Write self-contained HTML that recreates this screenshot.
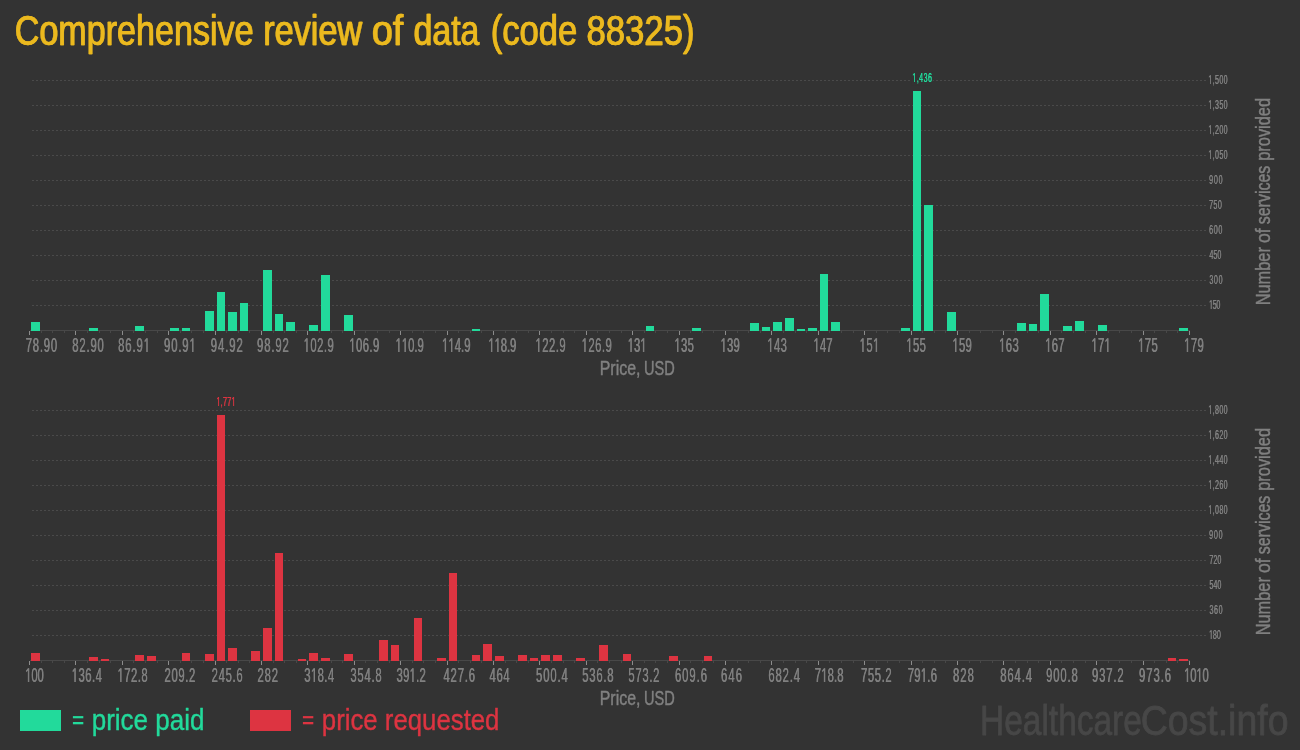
<!DOCTYPE html>
<html><head><meta charset="utf-8"><title>Comprehensive review of data (code 88325)</title>
<style>html,body{margin:0;padding:0;background:#333333;width:1300px;height:750px;overflow:hidden}
svg{display:block;will-change:transform} text{font-family:"Liberation Sans",sans-serif}</style></head>
<body><svg width="1300" height="750" viewBox="0 0 1300 750">
<rect width="1300" height="750" fill="#333333"/>
<text x="14.42" y="44.90" font-size="42" fill="#ebb91f" textLength="238.85" lengthAdjust="spacingAndGlyphs" stroke="#ebb91f" stroke-width="0.5" stroke-linejoin="round">Comprehensive</text><text x="15.02" y="44.90" font-size="42" fill="#ebb91f" textLength="238.85" lengthAdjust="spacingAndGlyphs" stroke="#ebb91f" stroke-width="0.5" stroke-linejoin="round">Comprehensive</text>
<text x="262.88" y="44.90" font-size="42" fill="#ebb91f" textLength="98.99" lengthAdjust="spacingAndGlyphs" stroke="#ebb91f" stroke-width="0.5" stroke-linejoin="round">review</text><text x="263.48" y="44.90" font-size="42" fill="#ebb91f" textLength="98.99" lengthAdjust="spacingAndGlyphs" stroke="#ebb91f" stroke-width="0.5" stroke-linejoin="round">review</text>
<text x="371.57" y="44.90" font-size="42" fill="#ebb91f" textLength="31.43" lengthAdjust="spacingAndGlyphs" stroke="#ebb91f" stroke-width="0.5" stroke-linejoin="round">of</text><text x="372.17" y="44.90" font-size="42" fill="#ebb91f" textLength="31.43" lengthAdjust="spacingAndGlyphs" stroke="#ebb91f" stroke-width="0.5" stroke-linejoin="round">of</text>
<text x="413.33" y="44.90" font-size="42" fill="#ebb91f" textLength="65.72" lengthAdjust="spacingAndGlyphs" stroke="#ebb91f" stroke-width="0.5" stroke-linejoin="round">data</text><text x="413.93" y="44.90" font-size="42" fill="#ebb91f" textLength="65.72" lengthAdjust="spacingAndGlyphs" stroke="#ebb91f" stroke-width="0.5" stroke-linejoin="round">data</text>
<text x="490.40" y="44.90" font-size="42" fill="#ebb91f" textLength="86.58" lengthAdjust="spacingAndGlyphs" stroke="#ebb91f" stroke-width="0.5" stroke-linejoin="round">(code</text><text x="491.00" y="44.90" font-size="42" fill="#ebb91f" textLength="86.58" lengthAdjust="spacingAndGlyphs" stroke="#ebb91f" stroke-width="0.5" stroke-linejoin="round">(code</text>
<text x="586.14" y="44.90" font-size="42" fill="#ebb91f" textLength="108.16" lengthAdjust="spacingAndGlyphs" stroke="#ebb91f" stroke-width="0.5" stroke-linejoin="round">88325)</text><text x="586.74" y="44.90" font-size="42" fill="#ebb91f" textLength="108.16" lengthAdjust="spacingAndGlyphs" stroke="#ebb91f" stroke-width="0.5" stroke-linejoin="round">88325)</text>
<line x1="32" y1="80.5" x2="1206" y2="80.5" stroke="#4a4a4a" stroke-width="1" stroke-dasharray="2,2"/>
<line x1="32" y1="105.5" x2="1206" y2="105.5" stroke="#4a4a4a" stroke-width="1" stroke-dasharray="2,2"/>
<line x1="32" y1="130.5" x2="1206" y2="130.5" stroke="#4a4a4a" stroke-width="1" stroke-dasharray="2,2"/>
<line x1="32" y1="155.5" x2="1206" y2="155.5" stroke="#4a4a4a" stroke-width="1" stroke-dasharray="2,2"/>
<line x1="32" y1="180.5" x2="1206" y2="180.5" stroke="#4a4a4a" stroke-width="1" stroke-dasharray="2,2"/>
<line x1="32" y1="205.5" x2="1206" y2="205.5" stroke="#4a4a4a" stroke-width="1" stroke-dasharray="2,2"/>
<line x1="32" y1="230.5" x2="1206" y2="230.5" stroke="#4a4a4a" stroke-width="1" stroke-dasharray="2,2"/>
<line x1="32" y1="255.5" x2="1206" y2="255.5" stroke="#4a4a4a" stroke-width="1" stroke-dasharray="2,2"/>
<line x1="32" y1="280.5" x2="1206" y2="280.5" stroke="#4a4a4a" stroke-width="1" stroke-dasharray="2,2"/>
<line x1="32" y1="305.5" x2="1206" y2="305.5" stroke="#4a4a4a" stroke-width="1" stroke-dasharray="2,2"/>
<line x1="30" y1="330.5" x2="1190" y2="330.5" stroke="#484848" stroke-width="1"/>
<rect x="29" y="331" width="1" height="4" fill="#8c8c8c"/>
<rect x="41" y="331" width="1" height="2" fill="#484848"/>
<rect x="52" y="331" width="1" height="2" fill="#484848"/>
<rect x="64" y="331" width="1" height="2" fill="#484848"/>
<rect x="75" y="331" width="1" height="4" fill="#8c8c8c"/>
<rect x="87" y="331" width="1" height="2" fill="#484848"/>
<rect x="99" y="331" width="1" height="2" fill="#484848"/>
<rect x="110" y="331" width="1" height="2" fill="#484848"/>
<rect x="122" y="331" width="1" height="4" fill="#8c8c8c"/>
<rect x="133" y="331" width="1" height="2" fill="#484848"/>
<rect x="145" y="331" width="1" height="2" fill="#484848"/>
<rect x="157" y="331" width="1" height="2" fill="#484848"/>
<rect x="168" y="331" width="1" height="4" fill="#8c8c8c"/>
<rect x="180" y="331" width="1" height="2" fill="#484848"/>
<rect x="191" y="331" width="1" height="2" fill="#484848"/>
<rect x="203" y="331" width="1" height="2" fill="#484848"/>
<rect x="215" y="331" width="1" height="4" fill="#8c8c8c"/>
<rect x="226" y="331" width="1" height="2" fill="#484848"/>
<rect x="238" y="331" width="1" height="2" fill="#484848"/>
<rect x="249" y="331" width="1" height="2" fill="#484848"/>
<rect x="261" y="331" width="1" height="4" fill="#8c8c8c"/>
<rect x="273" y="331" width="1" height="2" fill="#484848"/>
<rect x="284" y="331" width="1" height="2" fill="#484848"/>
<rect x="296" y="331" width="1" height="2" fill="#484848"/>
<rect x="307" y="331" width="1" height="4" fill="#8c8c8c"/>
<rect x="319" y="331" width="1" height="2" fill="#484848"/>
<rect x="331" y="331" width="1" height="2" fill="#484848"/>
<rect x="342" y="331" width="1" height="2" fill="#484848"/>
<rect x="354" y="331" width="1" height="4" fill="#8c8c8c"/>
<rect x="365" y="331" width="1" height="2" fill="#484848"/>
<rect x="377" y="331" width="1" height="2" fill="#484848"/>
<rect x="389" y="331" width="1" height="2" fill="#484848"/>
<rect x="400" y="331" width="1" height="4" fill="#8c8c8c"/>
<rect x="412" y="331" width="1" height="2" fill="#484848"/>
<rect x="423" y="331" width="1" height="2" fill="#484848"/>
<rect x="435" y="331" width="1" height="2" fill="#484848"/>
<rect x="447" y="331" width="1" height="4" fill="#8c8c8c"/>
<rect x="458" y="331" width="1" height="2" fill="#484848"/>
<rect x="470" y="331" width="1" height="2" fill="#484848"/>
<rect x="481" y="331" width="1" height="2" fill="#484848"/>
<rect x="493" y="331" width="1" height="4" fill="#8c8c8c"/>
<rect x="505" y="331" width="1" height="2" fill="#484848"/>
<rect x="516" y="331" width="1" height="2" fill="#484848"/>
<rect x="528" y="331" width="1" height="2" fill="#484848"/>
<rect x="539" y="331" width="1" height="4" fill="#8c8c8c"/>
<rect x="551" y="331" width="1" height="2" fill="#484848"/>
<rect x="563" y="331" width="1" height="2" fill="#484848"/>
<rect x="574" y="331" width="1" height="2" fill="#484848"/>
<rect x="586" y="331" width="1" height="4" fill="#8c8c8c"/>
<rect x="597" y="331" width="1" height="2" fill="#484848"/>
<rect x="609" y="331" width="1" height="2" fill="#484848"/>
<rect x="621" y="331" width="1" height="2" fill="#484848"/>
<rect x="632" y="331" width="1" height="4" fill="#8c8c8c"/>
<rect x="644" y="331" width="1" height="2" fill="#484848"/>
<rect x="655" y="331" width="1" height="2" fill="#484848"/>
<rect x="667" y="331" width="1" height="2" fill="#484848"/>
<rect x="679" y="331" width="1" height="4" fill="#8c8c8c"/>
<rect x="690" y="331" width="1" height="2" fill="#484848"/>
<rect x="702" y="331" width="1" height="2" fill="#484848"/>
<rect x="713" y="331" width="1" height="2" fill="#484848"/>
<rect x="725" y="331" width="1" height="4" fill="#8c8c8c"/>
<rect x="737" y="331" width="1" height="2" fill="#484848"/>
<rect x="748" y="331" width="1" height="2" fill="#484848"/>
<rect x="760" y="331" width="1" height="2" fill="#484848"/>
<rect x="771" y="331" width="1" height="4" fill="#8c8c8c"/>
<rect x="783" y="331" width="1" height="2" fill="#484848"/>
<rect x="795" y="331" width="1" height="2" fill="#484848"/>
<rect x="806" y="331" width="1" height="2" fill="#484848"/>
<rect x="818" y="331" width="1" height="4" fill="#8c8c8c"/>
<rect x="829" y="331" width="1" height="2" fill="#484848"/>
<rect x="841" y="331" width="1" height="2" fill="#484848"/>
<rect x="853" y="331" width="1" height="2" fill="#484848"/>
<rect x="864" y="331" width="1" height="4" fill="#8c8c8c"/>
<rect x="876" y="331" width="1" height="2" fill="#484848"/>
<rect x="887" y="331" width="1" height="2" fill="#484848"/>
<rect x="899" y="331" width="1" height="2" fill="#484848"/>
<rect x="911" y="331" width="1" height="4" fill="#8c8c8c"/>
<rect x="922" y="331" width="1" height="2" fill="#484848"/>
<rect x="934" y="331" width="1" height="2" fill="#484848"/>
<rect x="945" y="331" width="1" height="2" fill="#484848"/>
<rect x="957" y="331" width="1" height="4" fill="#8c8c8c"/>
<rect x="969" y="331" width="1" height="2" fill="#484848"/>
<rect x="980" y="331" width="1" height="2" fill="#484848"/>
<rect x="992" y="331" width="1" height="2" fill="#484848"/>
<rect x="1003" y="331" width="1" height="4" fill="#8c8c8c"/>
<rect x="1015" y="331" width="1" height="2" fill="#484848"/>
<rect x="1027" y="331" width="1" height="2" fill="#484848"/>
<rect x="1038" y="331" width="1" height="2" fill="#484848"/>
<rect x="1050" y="331" width="1" height="4" fill="#8c8c8c"/>
<rect x="1061" y="331" width="1" height="2" fill="#484848"/>
<rect x="1073" y="331" width="1" height="2" fill="#484848"/>
<rect x="1085" y="331" width="1" height="2" fill="#484848"/>
<rect x="1096" y="331" width="1" height="4" fill="#8c8c8c"/>
<rect x="1108" y="331" width="1" height="2" fill="#484848"/>
<rect x="1119" y="331" width="1" height="2" fill="#484848"/>
<rect x="1131" y="331" width="1" height="2" fill="#484848"/>
<rect x="1143" y="331" width="1" height="4" fill="#8c8c8c"/>
<rect x="1154" y="331" width="1" height="2" fill="#484848"/>
<rect x="1166" y="331" width="1" height="2" fill="#484848"/>
<rect x="1177" y="331" width="1" height="2" fill="#484848"/>
<rect x="1189" y="331" width="1" height="4" fill="#8c8c8c"/>
<rect x="31" y="322" width="9" height="9" fill="#22da9b"/>
<rect x="89" y="328" width="9" height="3" fill="#22da9b"/>
<rect x="135" y="326" width="9" height="5" fill="#22da9b"/>
<rect x="170" y="328" width="9" height="3" fill="#22da9b"/>
<rect x="182" y="328" width="8" height="3" fill="#22da9b"/>
<rect x="205" y="311" width="9" height="20" fill="#22da9b"/>
<rect x="217" y="292" width="8" height="39" fill="#22da9b"/>
<rect x="228" y="312" width="9" height="19" fill="#22da9b"/>
<rect x="240" y="303" width="8" height="28" fill="#22da9b"/>
<rect x="263" y="270" width="9" height="61" fill="#22da9b"/>
<rect x="275" y="314" width="8" height="17" fill="#22da9b"/>
<rect x="286" y="322" width="9" height="9" fill="#22da9b"/>
<rect x="309" y="325" width="9" height="6" fill="#22da9b"/>
<rect x="321" y="275" width="9" height="56" fill="#22da9b"/>
<rect x="344" y="315" width="9" height="16" fill="#22da9b"/>
<rect x="472" y="329" width="8" height="2" fill="#22da9b"/>
<rect x="646" y="326" width="8" height="5" fill="#22da9b"/>
<rect x="692" y="328" width="9" height="3" fill="#22da9b"/>
<rect x="750" y="323" width="9" height="8" fill="#22da9b"/>
<rect x="762" y="327" width="8" height="4" fill="#22da9b"/>
<rect x="773" y="322" width="9" height="9" fill="#22da9b"/>
<rect x="785" y="318" width="9" height="13" fill="#22da9b"/>
<rect x="797" y="329" width="8" height="2" fill="#22da9b"/>
<rect x="808" y="328" width="9" height="3" fill="#22da9b"/>
<rect x="820" y="274" width="8" height="57" fill="#22da9b"/>
<rect x="831" y="322" width="9" height="9" fill="#22da9b"/>
<rect x="901" y="328" width="9" height="3" fill="#22da9b"/>
<rect x="913" y="91" width="8" height="240" fill="#22da9b"/>
<rect x="924" y="205" width="9" height="126" fill="#22da9b"/>
<rect x="947" y="312" width="9" height="19" fill="#22da9b"/>
<rect x="1017" y="323" width="9" height="8" fill="#22da9b"/>
<rect x="1029" y="324" width="8" height="7" fill="#22da9b"/>
<rect x="1040" y="294" width="9" height="37" fill="#22da9b"/>
<rect x="1063" y="326" width="9" height="5" fill="#22da9b"/>
<rect x="1075" y="321" width="9" height="10" fill="#22da9b"/>
<rect x="1098" y="325" width="9" height="6" fill="#22da9b"/>
<rect x="1179" y="328" width="9" height="3" fill="#22da9b"/>
<text transform="translate(25.52,352.00) scale(0.565,1)" font-size="20" fill="#808080" letter-spacing="1.391">78.90</text><text transform="translate(25.92,352.00) scale(0.565,1)" font-size="20" fill="#808080" letter-spacing="1.391">78.90</text>
<text transform="translate(72.11,352.00) scale(0.565,1)" font-size="20" fill="#808080" letter-spacing="1.440">82.90</text><text transform="translate(72.51,352.00) scale(0.565,1)" font-size="20" fill="#808080" letter-spacing="1.440">82.90</text>
<text transform="translate(117.91,352.00) scale(0.565,1)" font-size="20" fill="#808080" letter-spacing="1.574">86.9 </text><text transform="translate(118.31,352.00) scale(0.565,1)" font-size="20" fill="#808080" letter-spacing="1.574">86.9 </text><path transform="translate(143.460,352.00) scale(0.00552,-0.00977)" d="M515 0L515 1237L197 1010L197 1180L530 1409L696 1409L696 0Z" fill="#808080"/><path transform="translate(143.860,352.00) scale(0.00552,-0.00977)" d="M515 0L515 1237L197 1010L197 1180L530 1409L696 1409L696 0Z" fill="#808080"/>
<text transform="translate(163.87,352.00) scale(0.565,1)" font-size="20" fill="#808080" letter-spacing="1.503">90.9 </text><text transform="translate(164.27,352.00) scale(0.565,1)" font-size="20" fill="#808080" letter-spacing="1.503">90.9 </text><path transform="translate(189.260,352.00) scale(0.00552,-0.00977)" d="M515 0L515 1237L197 1010L197 1180L530 1409L696 1409L696 0Z" fill="#808080"/><path transform="translate(189.660,352.00) scale(0.00552,-0.00977)" d="M515 0L515 1237L197 1010L197 1180L530 1409L696 1409L696 0Z" fill="#808080"/>
<text transform="translate(210.57,352.00) scale(0.565,1)" font-size="20" fill="#808080" letter-spacing="1.646">94.92</text><text transform="translate(210.97,352.00) scale(0.565,1)" font-size="20" fill="#808080" letter-spacing="1.646">94.92</text>
<text transform="translate(256.87,352.00) scale(0.565,1)" font-size="20" fill="#808080" letter-spacing="1.513">98.92</text><text transform="translate(257.27,352.00) scale(0.565,1)" font-size="20" fill="#808080" letter-spacing="1.513">98.92</text>
<text transform="translate(303.41,352.00) scale(0.565,1)" font-size="20" fill="#808080" letter-spacing="0.816"> 02.9</text><text transform="translate(303.81,352.00) scale(0.565,1)" font-size="20" fill="#808080" letter-spacing="0.816"> 02.9</text><path transform="translate(303.413,352.00) scale(0.00552,-0.00977)" d="M515 0L515 1237L197 1010L197 1180L530 1409L696 1409L696 0Z" fill="#808080"/><path transform="translate(303.813,352.00) scale(0.00552,-0.00977)" d="M515 0L515 1237L197 1010L197 1180L530 1409L696 1409L696 0Z" fill="#808080"/>
<text transform="translate(349.11,352.00) scale(0.565,1)" font-size="20" fill="#808080" letter-spacing="0.728"> 06.9</text><text transform="translate(349.51,352.00) scale(0.565,1)" font-size="20" fill="#808080" letter-spacing="0.728"> 06.9</text><path transform="translate(349.113,352.00) scale(0.00552,-0.00977)" d="M515 0L515 1237L197 1010L197 1180L530 1409L696 1409L696 0Z" fill="#808080"/><path transform="translate(349.513,352.00) scale(0.00552,-0.00977)" d="M515 0L515 1237L197 1010L197 1180L530 1409L696 1409L696 0Z" fill="#808080"/>
<text transform="translate(395.31,352.00) scale(0.565,1)" font-size="20" fill="#808080" letter-spacing="0.020">  0.9</text><text transform="translate(395.71,352.00) scale(0.565,1)" font-size="20" fill="#808080" letter-spacing="0.020">  0.9</text><path transform="translate(395.313,352.00) scale(0.00552,-0.00977)" d="M515 0L515 1237L197 1010L197 1180L530 1409L696 1409L696 0Z" fill="#808080"/><path transform="translate(395.713,352.00) scale(0.00552,-0.00977)" d="M515 0L515 1237L197 1010L197 1180L530 1409L696 1409L696 0Z" fill="#808080"/><path transform="translate(401.609,352.00) scale(0.00552,-0.00977)" d="M515 0L515 1237L197 1010L197 1180L530 1409L696 1409L696 0Z" fill="#808080"/><path transform="translate(402.009,352.00) scale(0.00552,-0.00977)" d="M515 0L515 1237L197 1010L197 1180L530 1409L696 1409L696 0Z" fill="#808080"/>
<text transform="translate(441.81,352.00) scale(0.565,1)" font-size="20" fill="#808080" letter-spacing="0.108">  4.9</text><text transform="translate(442.21,352.00) scale(0.565,1)" font-size="20" fill="#808080" letter-spacing="0.108">  4.9</text><path transform="translate(441.813,352.00) scale(0.00552,-0.00977)" d="M515 0L515 1237L197 1010L197 1180L530 1409L696 1409L696 0Z" fill="#808080"/><path transform="translate(442.213,352.00) scale(0.00552,-0.00977)" d="M515 0L515 1237L197 1010L197 1180L530 1409L696 1409L696 0Z" fill="#808080"/><path transform="translate(448.159,352.00) scale(0.00552,-0.00977)" d="M515 0L515 1237L197 1010L197 1180L530 1409L696 1409L696 0Z" fill="#808080"/><path transform="translate(448.559,352.00) scale(0.00552,-0.00977)" d="M515 0L515 1237L197 1010L197 1180L530 1409L696 1409L696 0Z" fill="#808080"/>
<text transform="translate(488.11,352.00) scale(0.565,1)" font-size="20" fill="#808080" letter-spacing="-0.113">  8.9</text><text transform="translate(488.51,352.00) scale(0.565,1)" font-size="20" fill="#808080" letter-spacing="-0.113">  8.9</text><path transform="translate(488.113,352.00) scale(0.00552,-0.00977)" d="M515 0L515 1237L197 1010L197 1180L530 1409L696 1409L696 0Z" fill="#808080"/><path transform="translate(488.513,352.00) scale(0.00552,-0.00977)" d="M515 0L515 1237L197 1010L197 1180L530 1409L696 1409L696 0Z" fill="#808080"/><path transform="translate(494.334,352.00) scale(0.00552,-0.00977)" d="M515 0L515 1237L197 1010L197 1180L530 1409L696 1409L696 0Z" fill="#808080"/><path transform="translate(494.734,352.00) scale(0.00552,-0.00977)" d="M515 0L515 1237L197 1010L197 1180L530 1409L696 1409L696 0Z" fill="#808080"/>
<text transform="translate(535.21,352.00) scale(0.565,1)" font-size="20" fill="#808080" letter-spacing="0.860"> 22.9</text><text transform="translate(535.61,352.00) scale(0.565,1)" font-size="20" fill="#808080" letter-spacing="0.860"> 22.9</text><path transform="translate(535.213,352.00) scale(0.00552,-0.00977)" d="M515 0L515 1237L197 1010L197 1180L530 1409L696 1409L696 0Z" fill="#808080"/><path transform="translate(535.613,352.00) scale(0.00552,-0.00977)" d="M515 0L515 1237L197 1010L197 1180L530 1409L696 1409L696 0Z" fill="#808080"/>
<text transform="translate(581.41,352.00) scale(0.565,1)" font-size="20" fill="#808080" letter-spacing="0.816"> 26.9</text><text transform="translate(581.81,352.00) scale(0.565,1)" font-size="20" fill="#808080" letter-spacing="0.816"> 26.9</text><path transform="translate(581.413,352.00) scale(0.00552,-0.00977)" d="M515 0L515 1237L197 1010L197 1180L530 1409L696 1409L696 0Z" fill="#808080"/><path transform="translate(581.813,352.00) scale(0.00552,-0.00977)" d="M515 0L515 1237L197 1010L197 1180L530 1409L696 1409L696 0Z" fill="#808080"/>
<text transform="translate(627.51,352.00) scale(0.565,1)" font-size="20" fill="#808080" letter-spacing="-0.020"> 3 </text><text transform="translate(627.91,352.00) scale(0.565,1)" font-size="20" fill="#808080" letter-spacing="-0.020"> 3 </text><path transform="translate(627.513,352.00) scale(0.00552,-0.00977)" d="M515 0L515 1237L197 1010L197 1180L530 1409L696 1409L696 0Z" fill="#808080"/><path transform="translate(627.913,352.00) scale(0.00552,-0.00977)" d="M515 0L515 1237L197 1010L197 1180L530 1409L696 1409L696 0Z" fill="#808080"/><path transform="translate(640.060,352.00) scale(0.00552,-0.00977)" d="M515 0L515 1237L197 1010L197 1180L530 1409L696 1409L696 0Z" fill="#808080"/><path transform="translate(640.460,352.00) scale(0.00552,-0.00977)" d="M515 0L515 1237L197 1010L197 1180L530 1409L696 1409L696 0Z" fill="#808080"/>
<text transform="translate(674.21,352.00) scale(0.565,1)" font-size="20" fill="#808080" letter-spacing="0.538"> 35</text><text transform="translate(674.61,352.00) scale(0.565,1)" font-size="20" fill="#808080" letter-spacing="0.538"> 35</text><path transform="translate(674.213,352.00) scale(0.00552,-0.00977)" d="M515 0L515 1237L197 1010L197 1180L530 1409L696 1409L696 0Z" fill="#808080"/><path transform="translate(674.613,352.00) scale(0.00552,-0.00977)" d="M515 0L515 1237L197 1010L197 1180L530 1409L696 1409L696 0Z" fill="#808080"/>
<text transform="translate(720.31,352.00) scale(0.565,1)" font-size="20" fill="#808080" letter-spacing="0.415"> 39</text><text transform="translate(720.71,352.00) scale(0.565,1)" font-size="20" fill="#808080" letter-spacing="0.415"> 39</text><path transform="translate(720.313,352.00) scale(0.00552,-0.00977)" d="M515 0L515 1237L197 1010L197 1180L530 1409L696 1409L696 0Z" fill="#808080"/><path transform="translate(720.713,352.00) scale(0.00552,-0.00977)" d="M515 0L515 1237L197 1010L197 1180L530 1409L696 1409L696 0Z" fill="#808080"/>
<text transform="translate(767.11,352.00) scale(0.565,1)" font-size="20" fill="#808080" letter-spacing="0.646"> 43</text><text transform="translate(767.51,352.00) scale(0.565,1)" font-size="20" fill="#808080" letter-spacing="0.646"> 43</text><path transform="translate(767.113,352.00) scale(0.00552,-0.00977)" d="M515 0L515 1237L197 1010L197 1180L530 1409L696 1409L696 0Z" fill="#808080"/><path transform="translate(767.513,352.00) scale(0.00552,-0.00977)" d="M515 0L515 1237L197 1010L197 1180L530 1409L696 1409L696 0Z" fill="#808080"/>
<text transform="translate(813.21,352.00) scale(0.565,1)" font-size="20" fill="#808080" letter-spacing="0.267"> 47</text><text transform="translate(813.61,352.00) scale(0.565,1)" font-size="20" fill="#808080" letter-spacing="0.267"> 47</text><path transform="translate(813.213,352.00) scale(0.00552,-0.00977)" d="M515 0L515 1237L197 1010L197 1180L530 1409L696 1409L696 0Z" fill="#808080"/><path transform="translate(813.613,352.00) scale(0.00552,-0.00977)" d="M515 0L515 1237L197 1010L197 1180L530 1409L696 1409L696 0Z" fill="#808080"/>
<text transform="translate(859.41,352.00) scale(0.565,1)" font-size="20" fill="#808080" letter-spacing="0.777"> 5 </text><text transform="translate(859.81,352.00) scale(0.565,1)" font-size="20" fill="#808080" letter-spacing="0.777"> 5 </text><path transform="translate(859.413,352.00) scale(0.00552,-0.00977)" d="M515 0L515 1237L197 1010L197 1180L530 1409L696 1409L696 0Z" fill="#808080"/><path transform="translate(859.813,352.00) scale(0.00552,-0.00977)" d="M515 0L515 1237L197 1010L197 1180L530 1409L696 1409L696 0Z" fill="#808080"/><path transform="translate(872.860,352.00) scale(0.00552,-0.00977)" d="M515 0L515 1237L197 1010L197 1180L530 1409L696 1409L696 0Z" fill="#808080"/><path transform="translate(873.260,352.00) scale(0.00552,-0.00977)" d="M515 0L515 1237L197 1010L197 1180L530 1409L696 1409L696 0Z" fill="#808080"/>
<text transform="translate(906.11,352.00) scale(0.565,1)" font-size="20" fill="#808080" letter-spacing="0.626"> 55</text><text transform="translate(906.51,352.00) scale(0.565,1)" font-size="20" fill="#808080" letter-spacing="0.626"> 55</text><path transform="translate(906.113,352.00) scale(0.00552,-0.00977)" d="M515 0L515 1237L197 1010L197 1180L530 1409L696 1409L696 0Z" fill="#808080"/><path transform="translate(906.513,352.00) scale(0.00552,-0.00977)" d="M515 0L515 1237L197 1010L197 1180L530 1409L696 1409L696 0Z" fill="#808080"/>
<text transform="translate(952.21,352.00) scale(0.565,1)" font-size="20" fill="#808080" letter-spacing="0.415"> 59</text><text transform="translate(952.61,352.00) scale(0.565,1)" font-size="20" fill="#808080" letter-spacing="0.415"> 59</text><path transform="translate(952.213,352.00) scale(0.00552,-0.00977)" d="M515 0L515 1237L197 1010L197 1180L530 1409L696 1409L696 0Z" fill="#808080"/><path transform="translate(952.613,352.00) scale(0.00552,-0.00977)" d="M515 0L515 1237L197 1010L197 1180L530 1409L696 1409L696 0Z" fill="#808080"/>
<text transform="translate(998.91,352.00) scale(0.565,1)" font-size="20" fill="#808080" letter-spacing="0.734"> 63</text><text transform="translate(999.31,352.00) scale(0.565,1)" font-size="20" fill="#808080" letter-spacing="0.734"> 63</text><path transform="translate(998.913,352.00) scale(0.00552,-0.00977)" d="M515 0L515 1237L197 1010L197 1180L530 1409L696 1409L696 0Z" fill="#808080"/><path transform="translate(999.313,352.00) scale(0.00552,-0.00977)" d="M515 0L515 1237L197 1010L197 1180L530 1409L696 1409L696 0Z" fill="#808080"/>
<text transform="translate(1045.01,352.00) scale(0.565,1)" font-size="20" fill="#808080" letter-spacing="0.444"> 67</text><text transform="translate(1045.41,352.00) scale(0.565,1)" font-size="20" fill="#808080" letter-spacing="0.444"> 67</text><path transform="translate(1045.013,352.00) scale(0.00552,-0.00977)" d="M515 0L515 1237L197 1010L197 1180L530 1409L696 1409L696 0Z" fill="#808080"/><path transform="translate(1045.413,352.00) scale(0.00552,-0.00977)" d="M515 0L515 1237L197 1010L197 1180L530 1409L696 1409L696 0Z" fill="#808080"/>
<text transform="translate(1091.21,352.00) scale(0.565,1)" font-size="20" fill="#808080" letter-spacing="0.423"> 7 </text><text transform="translate(1091.61,352.00) scale(0.565,1)" font-size="20" fill="#808080" letter-spacing="0.423"> 7 </text><path transform="translate(1091.213,352.00) scale(0.00552,-0.00977)" d="M515 0L515 1237L197 1010L197 1180L530 1409L696 1409L696 0Z" fill="#808080"/><path transform="translate(1091.613,352.00) scale(0.00552,-0.00977)" d="M515 0L515 1237L197 1010L197 1180L530 1409L696 1409L696 0Z" fill="#808080"/><path transform="translate(1104.260,352.00) scale(0.00552,-0.00977)" d="M515 0L515 1237L197 1010L197 1180L530 1409L696 1409L696 0Z" fill="#808080"/><path transform="translate(1104.660,352.00) scale(0.00552,-0.00977)" d="M515 0L515 1237L197 1010L197 1180L530 1409L696 1409L696 0Z" fill="#808080"/>
<text transform="translate(1137.91,352.00) scale(0.565,1)" font-size="20" fill="#808080" letter-spacing="0.715"> 75</text><text transform="translate(1138.31,352.00) scale(0.565,1)" font-size="20" fill="#808080" letter-spacing="0.715"> 75</text><path transform="translate(1137.913,352.00) scale(0.00552,-0.00977)" d="M515 0L515 1237L197 1010L197 1180L530 1409L696 1409L696 0Z" fill="#808080"/><path transform="translate(1138.313,352.00) scale(0.00552,-0.00977)" d="M515 0L515 1237L197 1010L197 1180L530 1409L696 1409L696 0Z" fill="#808080"/>
<text transform="translate(1183.91,352.00) scale(0.565,1)" font-size="20" fill="#808080" letter-spacing="0.769"> 79</text><text transform="translate(1184.31,352.00) scale(0.565,1)" font-size="20" fill="#808080" letter-spacing="0.769"> 79</text><path transform="translate(1183.913,352.00) scale(0.00552,-0.00977)" d="M515 0L515 1237L197 1010L197 1180L530 1409L696 1409L696 0Z" fill="#808080"/><path transform="translate(1184.313,352.00) scale(0.00552,-0.00977)" d="M515 0L515 1237L197 1010L197 1180L530 1409L696 1409L696 0Z" fill="#808080"/>
<text transform="translate(1208.21,84.10) scale(0.55,1)" font-size="13" fill="#808080" letter-spacing="0.625"> ,500</text><text transform="translate(1208.51,84.10) scale(0.55,1)" font-size="13" fill="#808080" letter-spacing="0.625"> ,500</text><path transform="translate(1208.212,84.10) scale(0.00349,-0.00635)" d="M515 0L515 1237L197 1010L197 1180L530 1409L696 1409L696 0Z" fill="#808080"/><path transform="translate(1208.512,84.10) scale(0.00349,-0.00635)" d="M515 0L515 1237L197 1010L197 1180L530 1409L696 1409L696 0Z" fill="#808080"/>
<text transform="translate(1208.21,109.10) scale(0.55,1)" font-size="13" fill="#808080" letter-spacing="0.625"> ,350</text><text transform="translate(1208.51,109.10) scale(0.55,1)" font-size="13" fill="#808080" letter-spacing="0.625"> ,350</text><path transform="translate(1208.212,109.10) scale(0.00349,-0.00635)" d="M515 0L515 1237L197 1010L197 1180L530 1409L696 1409L696 0Z" fill="#808080"/><path transform="translate(1208.512,109.10) scale(0.00349,-0.00635)" d="M515 0L515 1237L197 1010L197 1180L530 1409L696 1409L696 0Z" fill="#808080"/>
<text transform="translate(1208.21,134.10) scale(0.55,1)" font-size="13" fill="#808080" letter-spacing="0.625"> ,200</text><text transform="translate(1208.51,134.10) scale(0.55,1)" font-size="13" fill="#808080" letter-spacing="0.625"> ,200</text><path transform="translate(1208.212,134.10) scale(0.00349,-0.00635)" d="M515 0L515 1237L197 1010L197 1180L530 1409L696 1409L696 0Z" fill="#808080"/><path transform="translate(1208.512,134.10) scale(0.00349,-0.00635)" d="M515 0L515 1237L197 1010L197 1180L530 1409L696 1409L696 0Z" fill="#808080"/>
<text transform="translate(1208.21,159.10) scale(0.55,1)" font-size="13" fill="#808080" letter-spacing="0.625"> ,050</text><text transform="translate(1208.51,159.10) scale(0.55,1)" font-size="13" fill="#808080" letter-spacing="0.625"> ,050</text><path transform="translate(1208.212,159.10) scale(0.00349,-0.00635)" d="M515 0L515 1237L197 1010L197 1180L530 1409L696 1409L696 0Z" fill="#808080"/><path transform="translate(1208.512,159.10) scale(0.00349,-0.00635)" d="M515 0L515 1237L197 1010L197 1180L530 1409L696 1409L696 0Z" fill="#808080"/>
<text transform="translate(1208.96,184.10) scale(0.55,1)" font-size="13" fill="#808080" letter-spacing="1.441">900</text><text transform="translate(1209.26,184.10) scale(0.55,1)" font-size="13" fill="#808080" letter-spacing="1.441">900</text>
<text transform="translate(1208.93,209.10) scale(0.55,1)" font-size="13" fill="#808080" letter-spacing="0.742">750</text><text transform="translate(1209.23,209.10) scale(0.55,1)" font-size="13" fill="#808080" letter-spacing="0.742">750</text>
<text transform="translate(1208.94,234.10) scale(0.55,1)" font-size="13" fill="#808080" letter-spacing="1.284">600</text><text transform="translate(1209.24,234.10) scale(0.55,1)" font-size="13" fill="#808080" letter-spacing="1.284">600</text>
<text transform="translate(1209.24,259.10) scale(0.55,1)" font-size="13" fill="#808080" letter-spacing="0.104">450</text><text transform="translate(1209.54,259.10) scale(0.55,1)" font-size="13" fill="#808080" letter-spacing="0.104">450</text>
<text transform="translate(1209.13,284.10) scale(0.55,1)" font-size="13" fill="#808080" letter-spacing="1.202">300</text><text transform="translate(1209.43,284.10) scale(0.55,1)" font-size="13" fill="#808080" letter-spacing="1.202">300</text>
<text transform="translate(1208.91,309.10) scale(0.55,1)" font-size="13" fill="#808080" letter-spacing="-0.511"> 50</text><text transform="translate(1209.21,309.10) scale(0.55,1)" font-size="13" fill="#808080" letter-spacing="-0.511"> 50</text><path transform="translate(1208.912,309.10) scale(0.00349,-0.00635)" d="M515 0L515 1237L197 1010L197 1180L530 1409L696 1409L696 0Z" fill="#808080"/><path transform="translate(1209.212,309.10) scale(0.00349,-0.00635)" d="M515 0L515 1237L197 1010L197 1180L530 1409L696 1409L696 0Z" fill="#808080"/>
<text x="599.72" y="375.00" font-size="20" fill="#808080" textLength="40.69" lengthAdjust="spacingAndGlyphs" stroke="#808080" stroke-width="0.45" stroke-linejoin="round">Price,</text>
<text x="643.90" y="375.00" font-size="20" fill="#808080" textLength="30.77" lengthAdjust="spacingAndGlyphs" stroke="#808080" stroke-width="0.45" stroke-linejoin="round">USD</text>
<text transform="translate(1270.00,305.32) rotate(-90)" x="0" y="0" font-size="20" fill="#808080" textLength="58.16" lengthAdjust="spacingAndGlyphs" stroke="#808080" stroke-width="0.45">Number</text>
<text transform="translate(1270.00,242.91) rotate(-90)" x="0" y="0" font-size="20" fill="#808080" textLength="14.66" lengthAdjust="spacingAndGlyphs" stroke="#808080" stroke-width="0.45">of</text>
<text transform="translate(1270.00,224.22) rotate(-90)" x="0" y="0" font-size="20" fill="#808080" textLength="58.47" lengthAdjust="spacingAndGlyphs" stroke="#808080" stroke-width="0.45">services</text>
<text transform="translate(1270.00,160.73) rotate(-90)" x="0" y="0" font-size="20" fill="#808080" textLength="62.76" lengthAdjust="spacingAndGlyphs" stroke="#808080" stroke-width="0.45">provided</text>
<rect x="911.9" y="72.1" width="20.9" height="13" fill="#333333"/>
<text transform="translate(912.21,82.10) scale(0.55,1)" font-size="13" fill="#22da9b" letter-spacing="0.777"> ,436</text><text transform="translate(912.51,82.10) scale(0.55,1)" font-size="13" fill="#22da9b" letter-spacing="0.777"> ,436</text><path transform="translate(912.212,82.10) scale(0.00349,-0.00635)" d="M515 0L515 1237L197 1010L197 1180L530 1409L696 1409L696 0Z" fill="#22da9b"/><path transform="translate(912.512,82.10) scale(0.00349,-0.00635)" d="M515 0L515 1237L197 1010L197 1180L530 1409L696 1409L696 0Z" fill="#22da9b"/>
<line x1="32" y1="410.5" x2="1206" y2="410.5" stroke="#4a4a4a" stroke-width="1" stroke-dasharray="2,2"/>
<line x1="32" y1="435.5" x2="1206" y2="435.5" stroke="#4a4a4a" stroke-width="1" stroke-dasharray="2,2"/>
<line x1="32" y1="460.5" x2="1206" y2="460.5" stroke="#4a4a4a" stroke-width="1" stroke-dasharray="2,2"/>
<line x1="32" y1="485.5" x2="1206" y2="485.5" stroke="#4a4a4a" stroke-width="1" stroke-dasharray="2,2"/>
<line x1="32" y1="510.5" x2="1206" y2="510.5" stroke="#4a4a4a" stroke-width="1" stroke-dasharray="2,2"/>
<line x1="32" y1="535.5" x2="1206" y2="535.5" stroke="#4a4a4a" stroke-width="1" stroke-dasharray="2,2"/>
<line x1="32" y1="560.5" x2="1206" y2="560.5" stroke="#4a4a4a" stroke-width="1" stroke-dasharray="2,2"/>
<line x1="32" y1="585.5" x2="1206" y2="585.5" stroke="#4a4a4a" stroke-width="1" stroke-dasharray="2,2"/>
<line x1="32" y1="610.5" x2="1206" y2="610.5" stroke="#4a4a4a" stroke-width="1" stroke-dasharray="2,2"/>
<line x1="32" y1="635.5" x2="1206" y2="635.5" stroke="#4a4a4a" stroke-width="1" stroke-dasharray="2,2"/>
<line x1="30" y1="660.5" x2="1190" y2="660.5" stroke="#484848" stroke-width="1"/>
<rect x="29" y="661" width="1" height="4" fill="#8c8c8c"/>
<rect x="41" y="661" width="1" height="2" fill="#484848"/>
<rect x="52" y="661" width="1" height="2" fill="#484848"/>
<rect x="64" y="661" width="1" height="2" fill="#484848"/>
<rect x="75" y="661" width="1" height="4" fill="#8c8c8c"/>
<rect x="87" y="661" width="1" height="2" fill="#484848"/>
<rect x="99" y="661" width="1" height="2" fill="#484848"/>
<rect x="110" y="661" width="1" height="2" fill="#484848"/>
<rect x="122" y="661" width="1" height="4" fill="#8c8c8c"/>
<rect x="133" y="661" width="1" height="2" fill="#484848"/>
<rect x="145" y="661" width="1" height="2" fill="#484848"/>
<rect x="157" y="661" width="1" height="2" fill="#484848"/>
<rect x="168" y="661" width="1" height="4" fill="#8c8c8c"/>
<rect x="180" y="661" width="1" height="2" fill="#484848"/>
<rect x="191" y="661" width="1" height="2" fill="#484848"/>
<rect x="203" y="661" width="1" height="2" fill="#484848"/>
<rect x="215" y="661" width="1" height="4" fill="#8c8c8c"/>
<rect x="226" y="661" width="1" height="2" fill="#484848"/>
<rect x="238" y="661" width="1" height="2" fill="#484848"/>
<rect x="249" y="661" width="1" height="2" fill="#484848"/>
<rect x="261" y="661" width="1" height="4" fill="#8c8c8c"/>
<rect x="273" y="661" width="1" height="2" fill="#484848"/>
<rect x="284" y="661" width="1" height="2" fill="#484848"/>
<rect x="296" y="661" width="1" height="2" fill="#484848"/>
<rect x="307" y="661" width="1" height="4" fill="#8c8c8c"/>
<rect x="319" y="661" width="1" height="2" fill="#484848"/>
<rect x="331" y="661" width="1" height="2" fill="#484848"/>
<rect x="342" y="661" width="1" height="2" fill="#484848"/>
<rect x="354" y="661" width="1" height="4" fill="#8c8c8c"/>
<rect x="365" y="661" width="1" height="2" fill="#484848"/>
<rect x="377" y="661" width="1" height="2" fill="#484848"/>
<rect x="389" y="661" width="1" height="2" fill="#484848"/>
<rect x="400" y="661" width="1" height="4" fill="#8c8c8c"/>
<rect x="412" y="661" width="1" height="2" fill="#484848"/>
<rect x="423" y="661" width="1" height="2" fill="#484848"/>
<rect x="435" y="661" width="1" height="2" fill="#484848"/>
<rect x="447" y="661" width="1" height="4" fill="#8c8c8c"/>
<rect x="458" y="661" width="1" height="2" fill="#484848"/>
<rect x="470" y="661" width="1" height="2" fill="#484848"/>
<rect x="481" y="661" width="1" height="2" fill="#484848"/>
<rect x="493" y="661" width="1" height="4" fill="#8c8c8c"/>
<rect x="505" y="661" width="1" height="2" fill="#484848"/>
<rect x="516" y="661" width="1" height="2" fill="#484848"/>
<rect x="528" y="661" width="1" height="2" fill="#484848"/>
<rect x="539" y="661" width="1" height="4" fill="#8c8c8c"/>
<rect x="551" y="661" width="1" height="2" fill="#484848"/>
<rect x="563" y="661" width="1" height="2" fill="#484848"/>
<rect x="574" y="661" width="1" height="2" fill="#484848"/>
<rect x="586" y="661" width="1" height="4" fill="#8c8c8c"/>
<rect x="597" y="661" width="1" height="2" fill="#484848"/>
<rect x="609" y="661" width="1" height="2" fill="#484848"/>
<rect x="621" y="661" width="1" height="2" fill="#484848"/>
<rect x="632" y="661" width="1" height="4" fill="#8c8c8c"/>
<rect x="644" y="661" width="1" height="2" fill="#484848"/>
<rect x="655" y="661" width="1" height="2" fill="#484848"/>
<rect x="667" y="661" width="1" height="2" fill="#484848"/>
<rect x="679" y="661" width="1" height="4" fill="#8c8c8c"/>
<rect x="690" y="661" width="1" height="2" fill="#484848"/>
<rect x="702" y="661" width="1" height="2" fill="#484848"/>
<rect x="713" y="661" width="1" height="2" fill="#484848"/>
<rect x="725" y="661" width="1" height="4" fill="#8c8c8c"/>
<rect x="737" y="661" width="1" height="2" fill="#484848"/>
<rect x="748" y="661" width="1" height="2" fill="#484848"/>
<rect x="760" y="661" width="1" height="2" fill="#484848"/>
<rect x="771" y="661" width="1" height="4" fill="#8c8c8c"/>
<rect x="783" y="661" width="1" height="2" fill="#484848"/>
<rect x="795" y="661" width="1" height="2" fill="#484848"/>
<rect x="806" y="661" width="1" height="2" fill="#484848"/>
<rect x="818" y="661" width="1" height="4" fill="#8c8c8c"/>
<rect x="829" y="661" width="1" height="2" fill="#484848"/>
<rect x="841" y="661" width="1" height="2" fill="#484848"/>
<rect x="853" y="661" width="1" height="2" fill="#484848"/>
<rect x="864" y="661" width="1" height="4" fill="#8c8c8c"/>
<rect x="876" y="661" width="1" height="2" fill="#484848"/>
<rect x="887" y="661" width="1" height="2" fill="#484848"/>
<rect x="899" y="661" width="1" height="2" fill="#484848"/>
<rect x="911" y="661" width="1" height="4" fill="#8c8c8c"/>
<rect x="922" y="661" width="1" height="2" fill="#484848"/>
<rect x="934" y="661" width="1" height="2" fill="#484848"/>
<rect x="945" y="661" width="1" height="2" fill="#484848"/>
<rect x="957" y="661" width="1" height="4" fill="#8c8c8c"/>
<rect x="969" y="661" width="1" height="2" fill="#484848"/>
<rect x="980" y="661" width="1" height="2" fill="#484848"/>
<rect x="992" y="661" width="1" height="2" fill="#484848"/>
<rect x="1003" y="661" width="1" height="4" fill="#8c8c8c"/>
<rect x="1015" y="661" width="1" height="2" fill="#484848"/>
<rect x="1027" y="661" width="1" height="2" fill="#484848"/>
<rect x="1038" y="661" width="1" height="2" fill="#484848"/>
<rect x="1050" y="661" width="1" height="4" fill="#8c8c8c"/>
<rect x="1061" y="661" width="1" height="2" fill="#484848"/>
<rect x="1073" y="661" width="1" height="2" fill="#484848"/>
<rect x="1085" y="661" width="1" height="2" fill="#484848"/>
<rect x="1096" y="661" width="1" height="4" fill="#8c8c8c"/>
<rect x="1108" y="661" width="1" height="2" fill="#484848"/>
<rect x="1119" y="661" width="1" height="2" fill="#484848"/>
<rect x="1131" y="661" width="1" height="2" fill="#484848"/>
<rect x="1143" y="661" width="1" height="4" fill="#8c8c8c"/>
<rect x="1154" y="661" width="1" height="2" fill="#484848"/>
<rect x="1166" y="661" width="1" height="2" fill="#484848"/>
<rect x="1177" y="661" width="1" height="2" fill="#484848"/>
<rect x="1189" y="661" width="1" height="4" fill="#8c8c8c"/>
<rect x="31" y="653" width="9" height="8" fill="#dd3441"/>
<rect x="89" y="657" width="9" height="4" fill="#dd3441"/>
<rect x="101" y="659" width="8" height="2" fill="#dd3441"/>
<rect x="135" y="655" width="9" height="6" fill="#dd3441"/>
<rect x="147" y="656" width="9" height="5" fill="#dd3441"/>
<rect x="182" y="653" width="8" height="8" fill="#dd3441"/>
<rect x="205" y="654" width="9" height="7" fill="#dd3441"/>
<rect x="217" y="415" width="8" height="246" fill="#dd3441"/>
<rect x="228" y="648" width="9" height="13" fill="#dd3441"/>
<rect x="251" y="651" width="9" height="10" fill="#dd3441"/>
<rect x="263" y="628" width="9" height="33" fill="#dd3441"/>
<rect x="275" y="553" width="8" height="108" fill="#dd3441"/>
<rect x="298" y="659" width="8" height="2" fill="#dd3441"/>
<rect x="309" y="653" width="9" height="8" fill="#dd3441"/>
<rect x="321" y="658" width="9" height="3" fill="#dd3441"/>
<rect x="344" y="654" width="9" height="7" fill="#dd3441"/>
<rect x="379" y="640" width="9" height="21" fill="#dd3441"/>
<rect x="391" y="645" width="8" height="16" fill="#dd3441"/>
<rect x="414" y="618" width="8" height="43" fill="#dd3441"/>
<rect x="437" y="658" width="9" height="3" fill="#dd3441"/>
<rect x="449" y="573" width="8" height="88" fill="#dd3441"/>
<rect x="472" y="655" width="8" height="6" fill="#dd3441"/>
<rect x="483" y="644" width="9" height="17" fill="#dd3441"/>
<rect x="495" y="656" width="9" height="5" fill="#dd3441"/>
<rect x="518" y="655" width="9" height="6" fill="#dd3441"/>
<rect x="530" y="658" width="8" height="3" fill="#dd3441"/>
<rect x="541" y="655" width="9" height="6" fill="#dd3441"/>
<rect x="553" y="655" width="9" height="6" fill="#dd3441"/>
<rect x="576" y="658" width="9" height="3" fill="#dd3441"/>
<rect x="599" y="645" width="9" height="16" fill="#dd3441"/>
<rect x="623" y="654" width="8" height="7" fill="#dd3441"/>
<rect x="669" y="656" width="9" height="5" fill="#dd3441"/>
<rect x="704" y="656" width="8" height="5" fill="#dd3441"/>
<rect x="1168" y="658" width="8" height="3" fill="#dd3441"/>
<rect x="1179" y="659" width="9" height="2" fill="#dd3441"/>
<text transform="translate(25.01,682.00) scale(0.565,1)" font-size="20" fill="#808080" letter-spacing="-0.199"> 00</text><text transform="translate(25.41,682.00) scale(0.565,1)" font-size="20" fill="#808080" letter-spacing="-0.199"> 00</text><path transform="translate(25.013,682.00) scale(0.00552,-0.00977)" d="M515 0L515 1237L197 1010L197 1180L530 1409L696 1409L696 0Z" fill="#808080"/><path transform="translate(25.413,682.00) scale(0.00552,-0.00977)" d="M515 0L515 1237L197 1010L197 1180L530 1409L696 1409L696 0Z" fill="#808080"/>
<text transform="translate(71.51,682.00) scale(0.565,1)" font-size="20" fill="#808080" letter-spacing="0.859"> 36.4</text><text transform="translate(71.91,682.00) scale(0.565,1)" font-size="20" fill="#808080" letter-spacing="0.859"> 36.4</text><path transform="translate(71.513,682.00) scale(0.00552,-0.00977)" d="M515 0L515 1237L197 1010L197 1180L530 1409L696 1409L696 0Z" fill="#808080"/><path transform="translate(71.913,682.00) scale(0.00552,-0.00977)" d="M515 0L515 1237L197 1010L197 1180L530 1409L696 1409L696 0Z" fill="#808080"/>
<text transform="translate(117.31,682.00) scale(0.565,1)" font-size="20" fill="#808080" letter-spacing="0.841"> 72.8</text><text transform="translate(117.71,682.00) scale(0.565,1)" font-size="20" fill="#808080" letter-spacing="0.841"> 72.8</text><path transform="translate(117.313,682.00) scale(0.00552,-0.00977)" d="M515 0L515 1237L197 1010L197 1180L530 1409L696 1409L696 0Z" fill="#808080"/><path transform="translate(117.713,682.00) scale(0.00552,-0.00977)" d="M515 0L515 1237L197 1010L197 1180L530 1409L696 1409L696 0Z" fill="#808080"/>
<text transform="translate(164.33,682.00) scale(0.565,1)" font-size="20" fill="#808080" letter-spacing="1.132">209.2</text><text transform="translate(164.73,682.00) scale(0.565,1)" font-size="20" fill="#808080" letter-spacing="1.132">209.2</text>
<text transform="translate(211.43,682.00) scale(0.565,1)" font-size="20" fill="#808080" letter-spacing="1.233">245.6</text><text transform="translate(211.83,682.00) scale(0.565,1)" font-size="20" fill="#808080" letter-spacing="1.233">245.6</text>
<text transform="translate(257.23,682.00) scale(0.565,1)" font-size="20" fill="#808080" letter-spacing="1.578">282</text><text transform="translate(257.63,682.00) scale(0.565,1)" font-size="20" fill="#808080" letter-spacing="1.578">282</text>
<text transform="translate(304.07,682.00) scale(0.565,1)" font-size="20" fill="#808080" letter-spacing="0.701">3 8.4</text><text transform="translate(304.47,682.00) scale(0.565,1)" font-size="20" fill="#808080" letter-spacing="0.701">3 8.4</text><path transform="translate(310.750,682.00) scale(0.00552,-0.00977)" d="M515 0L515 1237L197 1010L197 1180L530 1409L696 1409L696 0Z" fill="#808080"/><path transform="translate(311.150,682.00) scale(0.00552,-0.00977)" d="M515 0L515 1237L197 1010L197 1180L530 1409L696 1409L696 0Z" fill="#808080"/>
<text transform="translate(350.17,682.00) scale(0.565,1)" font-size="20" fill="#808080" letter-spacing="1.347">354.8</text><text transform="translate(350.57,682.00) scale(0.565,1)" font-size="20" fill="#808080" letter-spacing="1.347">354.8</text>
<text transform="translate(396.37,682.00) scale(0.565,1)" font-size="20" fill="#808080" letter-spacing="0.408">39 .2</text><text transform="translate(396.77,682.00) scale(0.565,1)" font-size="20" fill="#808080" letter-spacing="0.408">39 .2</text><path transform="translate(409.399,682.00) scale(0.00552,-0.00977)" d="M515 0L515 1237L197 1010L197 1180L530 1409L696 1409L696 0Z" fill="#808080"/><path transform="translate(409.799,682.00) scale(0.00552,-0.00977)" d="M515 0L515 1237L197 1010L197 1180L530 1409L696 1409L696 0Z" fill="#808080"/>
<text transform="translate(443.24,682.00) scale(0.565,1)" font-size="20" fill="#808080" letter-spacing="1.495">427.6</text><text transform="translate(443.64,682.00) scale(0.565,1)" font-size="20" fill="#808080" letter-spacing="1.495">427.6</text>
<text transform="translate(489.34,682.00) scale(0.565,1)" font-size="20" fill="#808080" letter-spacing="1.095">464</text><text transform="translate(489.74,682.00) scale(0.565,1)" font-size="20" fill="#808080" letter-spacing="1.095">464</text>
<text transform="translate(535.85,682.00) scale(0.565,1)" font-size="20" fill="#808080" letter-spacing="1.551">500.4</text><text transform="translate(536.25,682.00) scale(0.565,1)" font-size="20" fill="#808080" letter-spacing="1.551">500.4</text>
<text transform="translate(582.05,682.00) scale(0.565,1)" font-size="20" fill="#808080" letter-spacing="1.357">536.8</text><text transform="translate(582.45,682.00) scale(0.565,1)" font-size="20" fill="#808080" letter-spacing="1.357">536.8</text>
<text transform="translate(628.15,682.00) scale(0.565,1)" font-size="20" fill="#808080" letter-spacing="1.258">573.2</text><text transform="translate(628.55,682.00) scale(0.565,1)" font-size="20" fill="#808080" letter-spacing="1.258">573.2</text>
<text transform="translate(674.73,682.00) scale(0.565,1)" font-size="20" fill="#808080" letter-spacing="1.678">609.6</text><text transform="translate(675.13,682.00) scale(0.565,1)" font-size="20" fill="#808080" letter-spacing="1.678">609.6</text>
<text transform="translate(720.83,682.00) scale(0.565,1)" font-size="20" fill="#808080" letter-spacing="1.962">646</text><text transform="translate(721.23,682.00) scale(0.565,1)" font-size="20" fill="#808080" letter-spacing="1.962">646</text>
<text transform="translate(768.13,682.00) scale(0.565,1)" font-size="20" fill="#808080" letter-spacing="1.517">682.4</text><text transform="translate(768.53,682.00) scale(0.565,1)" font-size="20" fill="#808080" letter-spacing="1.517">682.4</text>
<text transform="translate(814.62,682.00) scale(0.565,1)" font-size="20" fill="#808080" letter-spacing="0.218">7 8.8</text><text transform="translate(815.02,682.00) scale(0.565,1)" font-size="20" fill="#808080" letter-spacing="0.218">7 8.8</text><path transform="translate(821.028,682.00) scale(0.00552,-0.00977)" d="M515 0L515 1237L197 1010L197 1180L530 1409L696 1409L696 0Z" fill="#808080"/><path transform="translate(821.428,682.00) scale(0.00552,-0.00977)" d="M515 0L515 1237L197 1010L197 1180L530 1409L696 1409L696 0Z" fill="#808080"/>
<text transform="translate(860.82,682.00) scale(0.565,1)" font-size="20" fill="#808080" letter-spacing="1.049">755.2</text><text transform="translate(861.22,682.00) scale(0.565,1)" font-size="20" fill="#808080" letter-spacing="1.049">755.2</text>
<text transform="translate(907.52,682.00) scale(0.565,1)" font-size="20" fill="#808080" letter-spacing="0.442">79 .6</text><text transform="translate(907.92,682.00) scale(0.565,1)" font-size="20" fill="#808080" letter-spacing="0.442">79 .6</text><path transform="translate(920.589,682.00) scale(0.00552,-0.00977)" d="M515 0L515 1237L197 1010L197 1180L530 1409L696 1409L696 0Z" fill="#808080"/><path transform="translate(920.989,682.00) scale(0.00552,-0.00977)" d="M515 0L515 1237L197 1010L197 1180L530 1409L696 1409L696 0Z" fill="#808080"/>
<text transform="translate(952.81,682.00) scale(0.565,1)" font-size="20" fill="#808080" letter-spacing="1.795">828</text><text transform="translate(953.21,682.00) scale(0.565,1)" font-size="20" fill="#808080" letter-spacing="1.795">828</text>
<text transform="translate(1000.01,682.00) scale(0.565,1)" font-size="20" fill="#808080" letter-spacing="1.568">864.4</text><text transform="translate(1000.41,682.00) scale(0.565,1)" font-size="20" fill="#808080" letter-spacing="1.568">864.4</text>
<text transform="translate(1045.97,682.00) scale(0.565,1)" font-size="20" fill="#808080" letter-spacing="1.479">900.8</text><text transform="translate(1046.37,682.00) scale(0.565,1)" font-size="20" fill="#808080" letter-spacing="1.479">900.8</text>
<text transform="translate(1091.77,682.00) scale(0.565,1)" font-size="20" fill="#808080" letter-spacing="1.513">937.2</text><text transform="translate(1092.17,682.00) scale(0.565,1)" font-size="20" fill="#808080" letter-spacing="1.513">937.2</text>
<text transform="translate(1138.87,682.00) scale(0.565,1)" font-size="20" fill="#808080" letter-spacing="1.659">973.6</text><text transform="translate(1139.27,682.00) scale(0.565,1)" font-size="20" fill="#808080" letter-spacing="1.659">973.6</text>
<text transform="translate(1183.91,682.00) scale(0.565,1)" font-size="20" fill="#808080" letter-spacing="-0.301"> 0 0</text><text transform="translate(1184.31,682.00) scale(0.565,1)" font-size="20" fill="#808080" letter-spacing="-0.301"> 0 0</text><path transform="translate(1183.913,682.00) scale(0.00552,-0.00977)" d="M515 0L515 1237L197 1010L197 1180L530 1409L696 1409L696 0Z" fill="#808080"/><path transform="translate(1184.313,682.00) scale(0.00552,-0.00977)" d="M515 0L515 1237L197 1010L197 1180L530 1409L696 1409L696 0Z" fill="#808080"/><path transform="translate(1196.142,682.00) scale(0.00552,-0.00977)" d="M515 0L515 1237L197 1010L197 1180L530 1409L696 1409L696 0Z" fill="#808080"/><path transform="translate(1196.542,682.00) scale(0.00552,-0.00977)" d="M515 0L515 1237L197 1010L197 1180L530 1409L696 1409L696 0Z" fill="#808080"/>
<text transform="translate(1208.21,414.10) scale(0.55,1)" font-size="13" fill="#808080" letter-spacing="0.625"> ,800</text><text transform="translate(1208.51,414.10) scale(0.55,1)" font-size="13" fill="#808080" letter-spacing="0.625"> ,800</text><path transform="translate(1208.212,414.10) scale(0.00349,-0.00635)" d="M515 0L515 1237L197 1010L197 1180L530 1409L696 1409L696 0Z" fill="#808080"/><path transform="translate(1208.512,414.10) scale(0.00349,-0.00635)" d="M515 0L515 1237L197 1010L197 1180L530 1409L696 1409L696 0Z" fill="#808080"/>
<text transform="translate(1208.21,439.10) scale(0.55,1)" font-size="13" fill="#808080" letter-spacing="0.625"> ,620</text><text transform="translate(1208.51,439.10) scale(0.55,1)" font-size="13" fill="#808080" letter-spacing="0.625"> ,620</text><path transform="translate(1208.212,439.10) scale(0.00349,-0.00635)" d="M515 0L515 1237L197 1010L197 1180L530 1409L696 1409L696 0Z" fill="#808080"/><path transform="translate(1208.512,439.10) scale(0.00349,-0.00635)" d="M515 0L515 1237L197 1010L197 1180L530 1409L696 1409L696 0Z" fill="#808080"/>
<text transform="translate(1208.21,464.10) scale(0.55,1)" font-size="13" fill="#808080" letter-spacing="0.625"> ,440</text><text transform="translate(1208.51,464.10) scale(0.55,1)" font-size="13" fill="#808080" letter-spacing="0.625"> ,440</text><path transform="translate(1208.212,464.10) scale(0.00349,-0.00635)" d="M515 0L515 1237L197 1010L197 1180L530 1409L696 1409L696 0Z" fill="#808080"/><path transform="translate(1208.512,464.10) scale(0.00349,-0.00635)" d="M515 0L515 1237L197 1010L197 1180L530 1409L696 1409L696 0Z" fill="#808080"/>
<text transform="translate(1208.21,489.10) scale(0.55,1)" font-size="13" fill="#808080" letter-spacing="0.625"> ,260</text><text transform="translate(1208.51,489.10) scale(0.55,1)" font-size="13" fill="#808080" letter-spacing="0.625"> ,260</text><path transform="translate(1208.212,489.10) scale(0.00349,-0.00635)" d="M515 0L515 1237L197 1010L197 1180L530 1409L696 1409L696 0Z" fill="#808080"/><path transform="translate(1208.512,489.10) scale(0.00349,-0.00635)" d="M515 0L515 1237L197 1010L197 1180L530 1409L696 1409L696 0Z" fill="#808080"/>
<text transform="translate(1208.21,514.10) scale(0.55,1)" font-size="13" fill="#808080" letter-spacing="0.625"> ,080</text><text transform="translate(1208.51,514.10) scale(0.55,1)" font-size="13" fill="#808080" letter-spacing="0.625"> ,080</text><path transform="translate(1208.212,514.10) scale(0.00349,-0.00635)" d="M515 0L515 1237L197 1010L197 1180L530 1409L696 1409L696 0Z" fill="#808080"/><path transform="translate(1208.512,514.10) scale(0.00349,-0.00635)" d="M515 0L515 1237L197 1010L197 1180L530 1409L696 1409L696 0Z" fill="#808080"/>
<text transform="translate(1208.96,539.10) scale(0.55,1)" font-size="13" fill="#808080" letter-spacing="1.441">900</text><text transform="translate(1209.26,539.10) scale(0.55,1)" font-size="13" fill="#808080" letter-spacing="1.441">900</text>
<text transform="translate(1209.23,564.10) scale(0.55,1)" font-size="13" fill="#808080" letter-spacing="0.106">720</text><text transform="translate(1209.53,564.10) scale(0.55,1)" font-size="13" fill="#808080" letter-spacing="0.106">720</text>
<text transform="translate(1209.31,589.10) scale(0.55,1)" font-size="13" fill="#808080" letter-spacing="0.033">540</text><text transform="translate(1209.61,589.10) scale(0.55,1)" font-size="13" fill="#808080" letter-spacing="0.033">540</text>
<text transform="translate(1209.33,614.10) scale(0.55,1)" font-size="13" fill="#808080" letter-spacing="1.020">360</text><text transform="translate(1209.63,614.10) scale(0.55,1)" font-size="13" fill="#808080" letter-spacing="1.020">360</text>
<text transform="translate(1208.91,639.10) scale(0.55,1)" font-size="13" fill="#808080" letter-spacing="-0.148"> 80</text><text transform="translate(1209.21,639.10) scale(0.55,1)" font-size="13" fill="#808080" letter-spacing="-0.148"> 80</text><path transform="translate(1208.912,639.10) scale(0.00349,-0.00635)" d="M515 0L515 1237L197 1010L197 1180L530 1409L696 1409L696 0Z" fill="#808080"/><path transform="translate(1209.212,639.10) scale(0.00349,-0.00635)" d="M515 0L515 1237L197 1010L197 1180L530 1409L696 1409L696 0Z" fill="#808080"/>
<text x="599.72" y="705.00" font-size="20" fill="#808080" textLength="40.69" lengthAdjust="spacingAndGlyphs" stroke="#808080" stroke-width="0.45" stroke-linejoin="round">Price,</text>
<text x="643.90" y="705.00" font-size="20" fill="#808080" textLength="30.77" lengthAdjust="spacingAndGlyphs" stroke="#808080" stroke-width="0.45" stroke-linejoin="round">USD</text>
<text transform="translate(1270.00,635.32) rotate(-90)" x="0" y="0" font-size="20" fill="#808080" textLength="58.16" lengthAdjust="spacingAndGlyphs" stroke="#808080" stroke-width="0.45">Number</text>
<text transform="translate(1270.00,572.91) rotate(-90)" x="0" y="0" font-size="20" fill="#808080" textLength="14.66" lengthAdjust="spacingAndGlyphs" stroke="#808080" stroke-width="0.45">of</text>
<text transform="translate(1270.00,554.22) rotate(-90)" x="0" y="0" font-size="20" fill="#808080" textLength="58.47" lengthAdjust="spacingAndGlyphs" stroke="#808080" stroke-width="0.45">services</text>
<text transform="translate(1270.00,490.73) rotate(-90)" x="0" y="0" font-size="20" fill="#808080" textLength="62.76" lengthAdjust="spacingAndGlyphs" stroke="#808080" stroke-width="0.45">provided</text>
<rect x="216.0" y="396.0" width="19.1" height="13" fill="#333333"/>
<text transform="translate(216.31,406.00) scale(0.55,1)" font-size="13" fill="#dd3441" letter-spacing="0.519"> ,77 </text><text transform="translate(216.61,406.00) scale(0.55,1)" font-size="13" fill="#dd3441" letter-spacing="0.519"> ,77 </text><path transform="translate(216.312,406.00) scale(0.00349,-0.00635)" d="M515 0L515 1237L197 1010L197 1180L530 1409L696 1409L696 0Z" fill="#dd3441"/><path transform="translate(216.612,406.00) scale(0.00349,-0.00635)" d="M515 0L515 1237L197 1010L197 1180L530 1409L696 1409L696 0Z" fill="#dd3441"/><path transform="translate(231.370,406.00) scale(0.00349,-0.00635)" d="M515 0L515 1237L197 1010L197 1180L530 1409L696 1409L696 0Z" fill="#dd3441"/><path transform="translate(231.670,406.00) scale(0.00349,-0.00635)" d="M515 0L515 1237L197 1010L197 1180L530 1409L696 1409L696 0Z" fill="#dd3441"/>
<rect x="20" y="710" width="41" height="21" fill="#22da9b"/>
<rect x="72.9" y="716.1" width="10.4" height="2.2" fill="#22da9b"/><rect x="72.9" y="722" width="10.4" height="2.3" fill="#22da9b"/>
<text x="91.72" y="730.20" font-size="30" fill="#22da9b" textLength="112.75" lengthAdjust="spacingAndGlyphs" stroke="#22da9b" stroke-width="0.4" stroke-linejoin="round">price paid</text>
<rect x="250" y="710" width="41" height="21" fill="#dd3441"/>
<rect x="302.9" y="716.1" width="10.4" height="2.2" fill="#dd3441"/><rect x="302.9" y="722" width="10.4" height="2.3" fill="#dd3441"/>
<text x="321.84" y="730.20" font-size="30" fill="#dd3441" textLength="177.62" lengthAdjust="spacingAndGlyphs" stroke="#dd3441" stroke-width="0.4" stroke-linejoin="round">price requested</text>
<text x="980.05" y="735.00" font-size="42.4" fill="#474747" textLength="161.83" lengthAdjust="spacingAndGlyphs" stroke="#474747" stroke-width="0.8" stroke-linejoin="round">Healthcare</text>
<text x="1140.70" y="735.00" font-size="42.4" fill="#474747" textLength="147.77" lengthAdjust="spacingAndGlyphs" stroke="#474747" stroke-width="0.8" stroke-linejoin="round">Cost.info</text>
</svg></body></html>
